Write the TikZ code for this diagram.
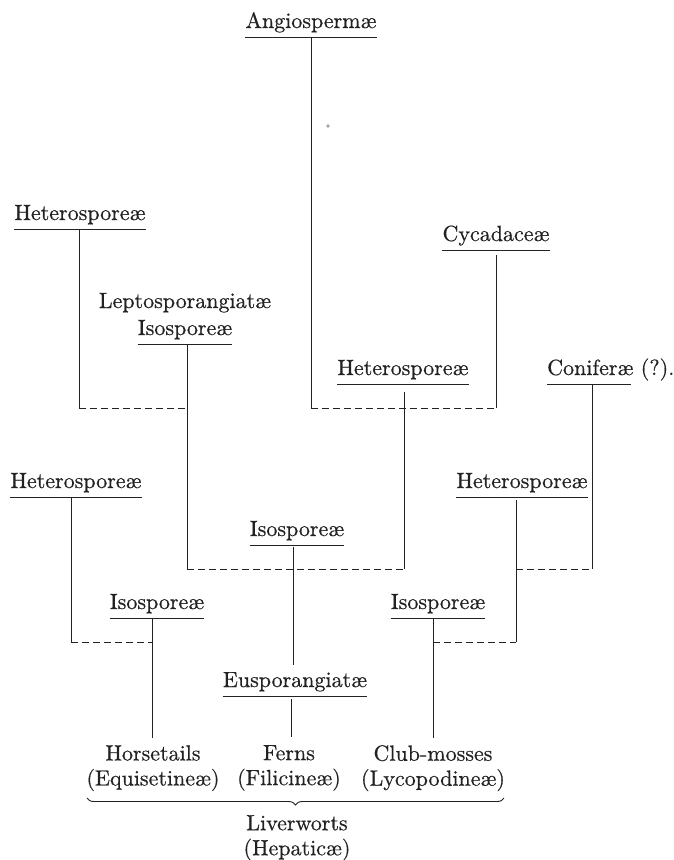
\documentclass[tikz,border=0pt]{standalone}
\usepackage{fontspec}
\usetikzlibrary{decorations.pathreplacing}
\newfontfamily\lblfam{lmroman10-regular.otf}[FakeBold=0.5]
\definecolor{ink}{HTML}{222222}
\newcommand{\lblfont}{\lblfam\fontsize{22}{25}\selectfont}
\begin{document}
\begin{tikzpicture}[x=1pt,y=-1pt,
  lab/.style={font=\lblfont, text=ink, inner xsep=0pt, inner ysep=0pt, text depth=9pt, anchor=base},
  txt/.style={font=\lblfont, text=ink, inner sep=0pt, anchor=base},
  grp/.style={font=\lblfont, text=ink, inner sep=0pt, anchor=north, align=center},
  ul/.style={draw=ink, line width=1.1pt},
  ln/.style={draw=ink, line width=0.9pt},
  dsh/.style={draw=ink, line width=0.9pt, dash pattern=on 7pt off 4pt},
  bracepath/.style={draw=ink, line width=0.9pt, decorate, decoration={brace, mirror, amplitude=7pt}},
]
\useasboundingbox[fill=white] (0,0) rectangle (674,860);

% levels
\coordinate (lv1) at (0,408);
\coordinate (lv2) at (0,569);
\coordinate (lv3) at (0,642);

% labels
\node[lab] (angio) at (311,28) {Angiospermæ};
\node[lab] (hetA) at (80,220) {Heterosporeæ};
\node[lab] (cycad) at (496,241) {Cycadaceæ};
\node[txt] (lepto) at (185,308) {Leptosporangiatæ};
\node[lab] (isoA) at (185,335) {Isosporeæ};
\node[lab] (hetB) at (403,375) {Heterosporeæ};
\node[lab, anchor=base west] (conif) at (547,375) {Coniferæ (?).};
\node[lab] (hetC) at (76,488) {Heterosporeæ};
\node[lab] (hetD) at (522,488) {Heterosporeæ};
\node[lab] (isoB) at (297,536) {Isosporeæ};
\node[lab] (isoC) at (157,609) {Isosporeæ};
\node[lab] (isoD) at (438,609) {Isosporeæ};
\node[lab] (eusp) at (295,687) {Eusporangiatæ};
\node[grp] (horse) at (153,745) {Horsetails\\(Equisetineæ)};
\node[grp] (ferns) at (289,745) {Ferns\\(Filicineæ)};
\node[grp] (club) at (433,745) {Club-mosses\\(Lycopodineæ)};
\node[grp] (liver) at (297,815) {Liverworts\\(Hepaticæ)};

% underlines
\foreach \n in {angio,hetA,cycad,isoA,hetB,hetC,hetD,isoB,isoC,isoD,eusp}
  \draw[ul] (\n.south west) -- (\n.south east);
\draw[ul] (conif.south west) -- ([xshift=84pt]conif.south west);

% stray dot
\fill[gray!70] (328,126) circle (1.8pt);

% upper junction: Angiospermae + Cycadaceae
\draw[ln] (angio.south) -- (angio.south |- lv1) coordinate (jA);
\draw[ln] ([yshift=-5pt]cycad.south) -- (cycad.south |- lv1) coordinate (jC);
\draw[dsh] (jA) -- (jC);

% left upper: Heterosporeae + Leptosporangiatae
\coordinate (vH) at ([xshift=-1pt]hetA.south);
\coordinate (vI) at ([xshift=2pt]isoA.south);
\draw[ln] (vH) -- (vH |- lv1) coordinate (jH);
\draw[dsh] (jH) -- (jH -| vI);
\draw[ln] (vI) -- (vI |- lv2) coordinate (jI);

% middle: Heterosporeae
\coordinate (vB) at ([xshift=1pt,yshift=-8pt]hetB.south);
\draw[ln] (vB) -- (vB |- lv2) coordinate (jB);
\draw[dsh] (jI) -- (jB);

% Isosporeae -> Eusporangiatae
\coordinate (vIB) at ([xshift=-4pt,yshift=-2pt]isoB.south);
\draw[ln, shorten >=7pt] (vIB) -- (vIB |- eusp.north);

% right: Coniferae + Heterosporeae
\coordinate (vK) at ([xshift=45pt]conif.south west);
\draw[ln] (vK) -- (vK |- lv2) coordinate (jK);
\coordinate (vD) at ([xshift=-6pt,yshift=-3pt]hetD.south);
\draw[ln] (vD) -- (vD |- lv3) coordinate (jD);
\draw[dsh] (vD |- lv2) -- (jK);

% club-mosses
\coordinate (vID) at ([xshift=-5pt]isoD.south);
\draw[ln, shorten >=7pt] (vID) -- (vID |- club.north);
\draw[dsh] (vID |- lv3) -- (jD);

% horsetails
\coordinate (vC) at ([xshift=-5pt,yshift=-1pt]hetC.south);
\coordinate (vIC) at ([xshift=-5pt]isoC.south);
\draw[ln] (vC) -- (vC |- lv3) coordinate (jHC);
\draw[dsh] (jHC) -- (jHC -| vIC);
\draw[ln, shorten >=7pt] (vIC) -- (vIC |- horse.north);

% ferns
\coordinate (vE) at ([xshift=-4pt,yshift=-3pt]eusp.south);
\draw[ln, shorten >=8pt] (vE) -- (vE |- ferns.north);

% brace to liverworts
\coordinate (bL) at (87,798);
\coordinate (bR) at (504,798);
\draw[bracepath] (bL) -- (bR);
\end{tikzpicture}
\end{document}
